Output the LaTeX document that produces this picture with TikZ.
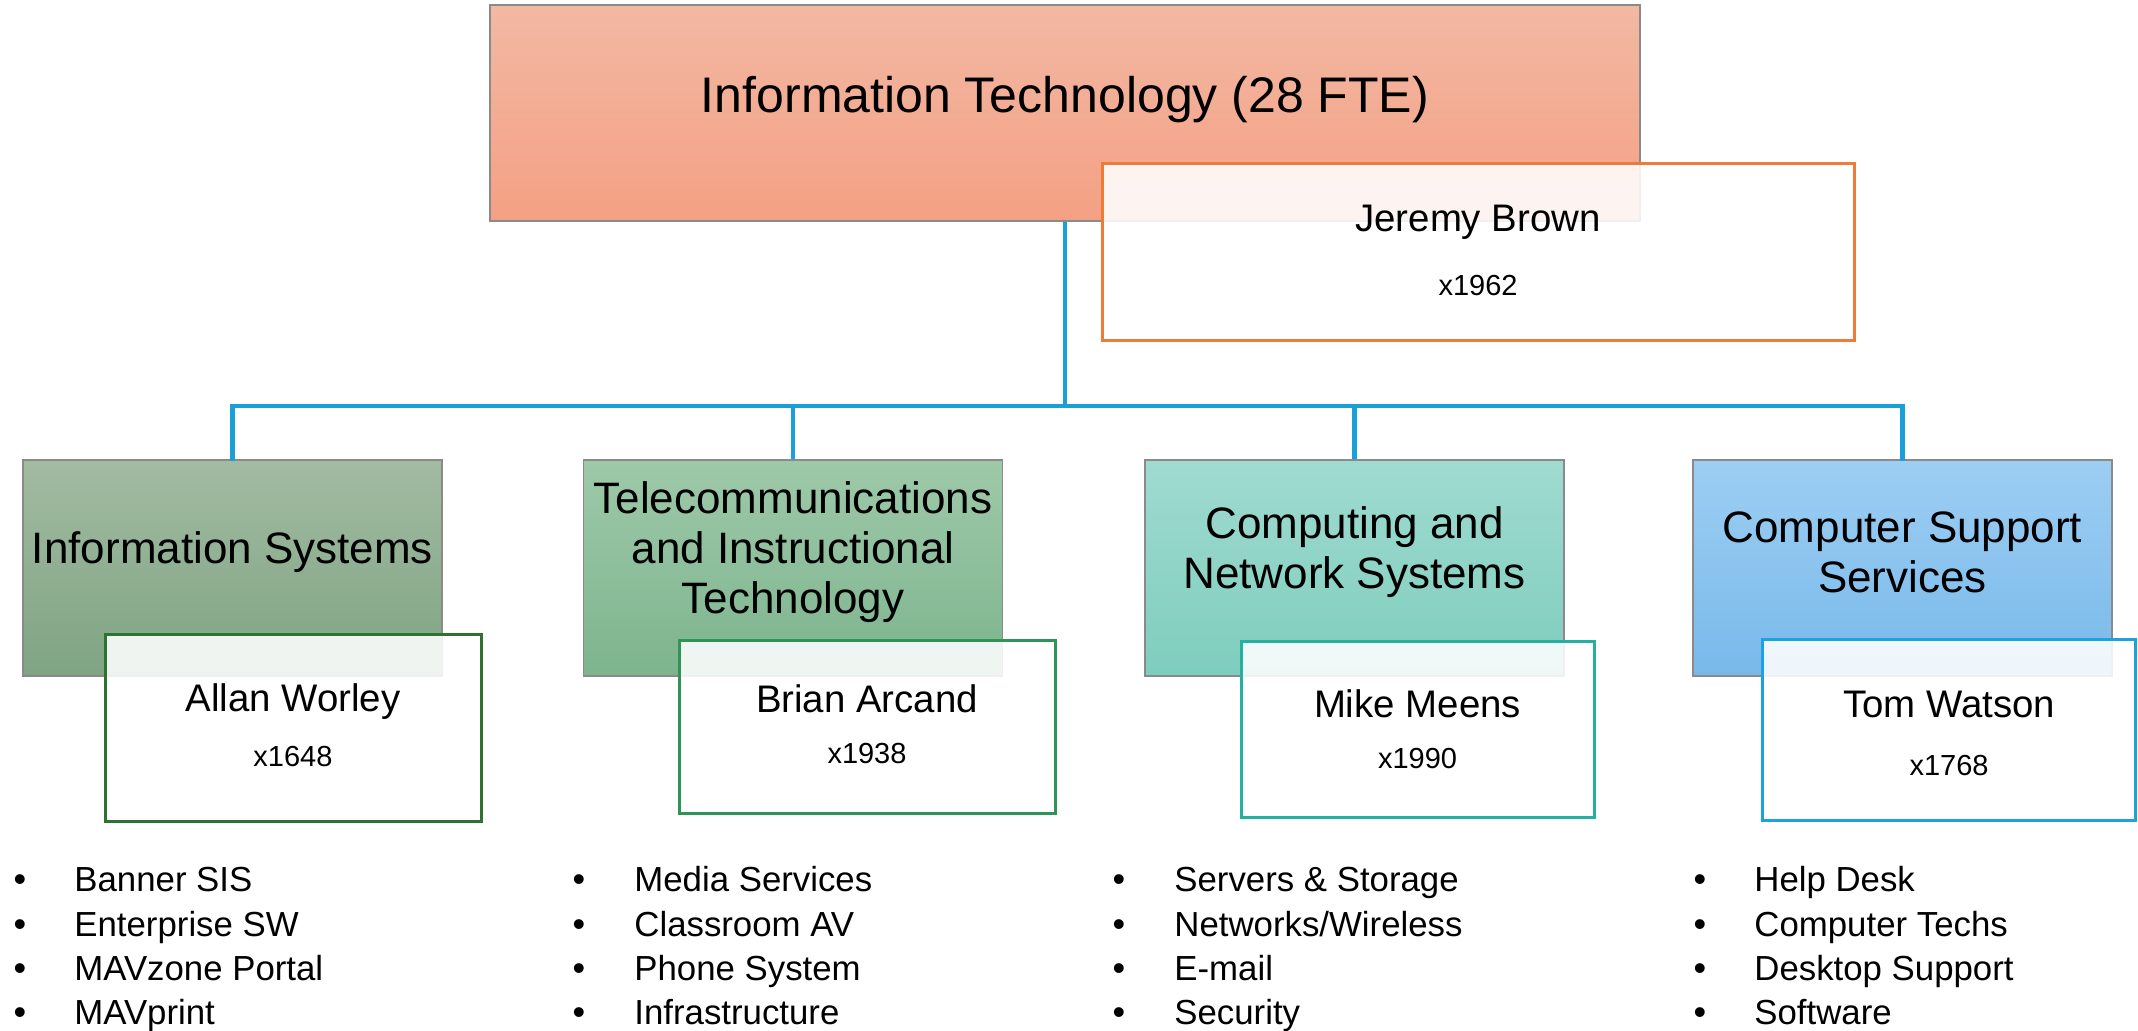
\documentclass[tikz,border=0pt]{standalone}
\usepackage{fontspec}
\setmainfont{Liberation Sans}
\definecolor{edgegray}{HTML}{8A8A8A}
\definecolor{linkblue}{HTML}{1A9FD8}
\definecolor{itTop}{HTML}{F3B8A3}
\definecolor{itBot}{HTML}{F4A084}
\definecolor{isTop}{HTML}{A2BBA2}
\definecolor{isBot}{HTML}{7FA483}
\definecolor{tcTop}{HTML}{9EC9A9}
\definecolor{tcBot}{HTML}{7DB48E}
\definecolor{cnTop}{HTML}{A0DBD0}
\definecolor{cnBot}{HTML}{7ECDBE}
\definecolor{csTop}{HTML}{9DCEF3}
\definecolor{csBot}{HTML}{78B9EA}
\definecolor{itEdge}{HTML}{EE7B37}
\definecolor{isEdge}{HTML}{2E7232}
\definecolor{tcEdge}{HTML}{2E9458}
\definecolor{cnEdge}{HTML}{26B0A0}
\definecolor{csEdge}{HTML}{1CA2DC}
\begin{document}
\begin{tikzpicture}[x=0.5pt,y=-0.5pt,
  unitbox/.style={rectangle, draw=edgegray, line width=0.7pt, inner sep=0pt},
  deptbox/.style={unitbox, minimum width=209.5pt, minimum height=108pt},
  headbox/.style={rectangle, fill=white, fill opacity=0.88, draw opacity=1,
                  line width=1.5pt, inner sep=0pt},
  link/.style={draw=linkblue, line width=2.2pt},
  toptitle/.style={font=\fontsize{25}{30}\selectfont, inner sep=0pt},
  depttitle/.style={font=\fontsize{22}{25}\selectfont, align=center, inner sep=0pt},
  headname/.style={font=\fontsize{19.2}{22}\selectfont, inner sep=0pt},
  headext/.style={font=\fontsize{14.5}{17}\selectfont, inner sep=0pt},
  bul/.style={font=\fontsize{18}{20}\selectfont, anchor=base, inner sep=0pt},
  item/.style={font=\fontsize{17.4}{20}\selectfont, anchor=base west, inner sep=0pt}]
\useasboundingbox (0,0) rectangle (2138,1031);

% top unit
\node[unitbox, minimum width=575pt, minimum height=108pt,
      top color=itTop, bottom color=itBot] (it) at (1065,113) {};
\node[toptitle] (itT) at (1065,100) {Information Technology (28 FTE)};

% departments
\node[deptbox, top color=isTop, bottom color=isBot] (is) at (232.5,568) {};
\node[deptbox, top color=tcTop, bottom color=tcBot] (tc) at (793,568) {};
\node[deptbox, top color=cnTop, bottom color=cnBot] (cn) at (1354.5,568) {};
\node[deptbox, top color=csTop, bottom color=csBot] (cs) at (1902.5,568) {};

\node[depttitle] (isT) at (232.5,552) {Information Systems};
\node[depttitle] (tcT) at (793,552) {Telecommunications\\and Instructional\\Technology};
\node[depttitle] (cnT) at (1354.5,552) {Computing and\\Network Systems};
\node[depttitle] (csT) at (1902.5,552) {Computer Support\\Services};

% connectors
\coordinate (bus) at (1065,406);
\draw[link] (it.south) -- (it.south |- bus);
\draw[link, line cap=rect] (is.north) -- (is.north |- bus) -- (cs.north |- bus) -- (cs.north);
\draw[link] (tc.north |- bus) -- (tc.north);
\draw[link] (cn.north |- bus) -- (cn.north);

% heads
\node[headbox, draw=itEdge, minimum width=376pt, minimum height=88.5pt] (itH) at (1478,252.5) {};
\node[headname] (itN) at (1478,222) {Jeremy Brown};
\node[headext] (itX) at (1478,286) {x1962};

\node[headbox, draw=isEdge, minimum width=188pt, minimum height=93.5pt] (isH) at (293,728.5) {};
\node[headname] (isN) at (293,702) {Allan Worley};
\node[headext] (isX) at (293,757) {x1648};

\node[headbox, draw=tcEdge, minimum width=188pt, minimum height=86.5pt] (tcH) at (867,727.5) {};
\node[headname] (tcN) at (867,699) {Brian Arcand};
\node[headext] (tcX) at (867,754) {x1938};

\node[headbox, draw=cnEdge, minimum width=176.5pt, minimum height=88pt] (cnH) at (1417.5,730) {};
\node[headname] (cnN) at (1417.5,704) {Mike Meens};
\node[headext] (cnX) at (1417.5,759) {x1990};

\node[headbox, draw=csEdge, minimum width=186.5pt, minimum height=90.5pt] (csH) at (1949,730.5) {};
\node[headname] (csN) at (1949,704) {Tom Watson};
\node[headext] (csX) at (1949,766) {x1768};

% duty lists
\foreach \bx/\tx/\nm/\items in {
  20/74/is/{Banner SIS,Enterprise SW,MAVzone Portal,MAVprint},
  579/634/tc/{Media Services,Classroom AV,Phone System,Infrastructure},
  1119/1174/cn/{Servers \& Storage,Networks/Wireless,E-mail,Security},
  1700/1754/cs/{Help Desk,Computer Techs,Desktop Support,Software}} {
  \foreach \it [count=\k] in \items {
    \pgfmathsetmacro{\yy}{892+44.3*(\k-1)}
    \node[bul] (\nm B\k) at (\bx,\yy) {•};
    \node[item] (\nm I\k) at (\tx,\yy) {\it};
  }
}
\end{tikzpicture}
\end{document}
